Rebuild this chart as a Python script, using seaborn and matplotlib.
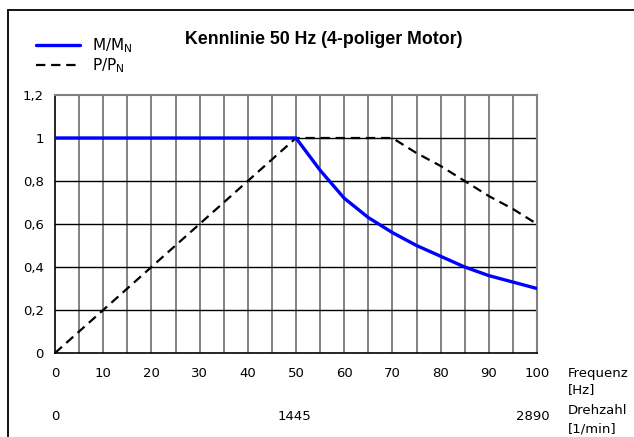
import matplotlib
matplotlib.use("Agg")
import matplotlib.pyplot as plt
from matplotlib.lines import Line2D
import seaborn as sns
import pandas as pd

# Frequency axis (Hz) and characteristic values
freq = [0, 5, 10, 15, 20, 25, 30, 35, 40, 45, 50, 55, 60, 65, 70, 75, 80, 85, 90, 95, 100]
torque = [1, 1, 1, 1, 1, 1, 1, 1, 1, 1, 1, 0.85, 0.72, 0.63, 0.56, 0.50, 0.45, 0.40, 0.36, 0.33, 0.30]
power = [0, 0.1, 0.2, 0.3, 0.4, 0.5, 0.6, 0.7, 0.8, 0.9, 1, 1, 1, 1, 1, 0.93, 0.87, 0.8, 0.73, 0.67, 0.6]

x_ticks = [0, 10, 20, 30, 40, 50, 60, 70, 80, 90, 100]
y_ticks = [0, 0.2, 0.4, 0.6, 0.8, 1.0, 1.2]
y_labels = ["0", "0,2", "0,4", "0,6", "0,8", "1", "1,2"]
rpm_pos = [0, 50, 100]
rpm_labels = ["0", "1445", "2890"]

df = pd.DataFrame({"f": freq, "M": torque, "P": power})

sns.set_style("white")
plt.rcParams["font.family"] = ["DejaVu Sans"]
plt.rcParams["text.color"] = "black"
plt.rcParams["xtick.color"] = "black"
plt.rcParams["ytick.color"] = "black"
plt.rcParams["xtick.labelcolor"] = "black"
plt.rcParams["ytick.labelcolor"] = "black"

W, H = 634, 437
fig = plt.figure(figsize=(W / 100, H / 100), dpi=100)
ax = fig.add_axes([55 / W, 1 - 353 / H, (537 - 55) / W, (353 - 95) / H])

dash = (0, (4.2, 2.6))

# grid
for xv in range(5, 100, 5):
    ax.axvline(xv, color="#606060", lw=1.1, zorder=1)
for yv in y_ticks[1:-1]:
    ax.axhline(yv, color="black", lw=1.0, zorder=1)

sns.lineplot(data=df, x="f", y="P", ax=ax, color="black", lw=1.6,
             linestyle=dash, zorder=3)
sns.lineplot(data=df, x="f", y="M", ax=ax, color="#0000ff", lw=2.4, zorder=4)

ax.set_xlim(0, 100)
ax.set_ylim(0, 1.2)
ax.set_xticks(x_ticks)
ax.set_xticklabels([str(v) for v in x_ticks], fontsize=9.5)
ax.set_xticks(range(5, 100, 10), minor=True)
ax.set_yticks(y_ticks)
ax.set_yticklabels(y_labels, fontsize=9.5)
ax.tick_params(axis="x", which="both", direction="inout", length=8, width=1, pad=6, colors="black")
ax.tick_params(axis="y", which="major", direction="out", length=4, width=1, pad=4, colors="black")
ax.set_xlabel("")
ax.set_ylabel("")

for side in ["left", "bottom"]:
    ax.spines[side].set_color("black")
    ax.spines[side].set_linewidth(1.2)
for side in ["top", "right"]:
    ax.spines[side].set_color("#808080")
    ax.spines[side].set_linewidth(1.5)

# speed row below the frequency ticks
for pos, lab in zip(rpm_pos, rpm_labels):
    fig.text((55 + pos / 100 * (537 - 55) - 4 * (pos / 100)) / W, 1 - 416 / H, lab,
             ha="center", va="center", fontsize=9.5)

# axis captions on the right
for txt, yy in [("Frequenz", 373), ("[Hz]", 390), ("Drehzahl", 410), ("[1/min]", 429)]:
    fig.text(568 / W, 1 - yy / H, txt, ha="left", va="center", fontsize=9.5)

# legend
handles = [Line2D([0], [0], color="#0000ff", lw=2.4),
           Line2D([0], [0], color="black", lw=1.6, linestyle=dash)]
labels = [r"M/M$_\mathregular{N}$", r"P/P$_\mathregular{N}$"]
fig.legend(handles, labels, loc="upper left", bbox_to_anchor=(25 / W, 1 - 26 / H),
           frameon=False, fontsize=11, handlelength=2.9, handletextpad=0.8,
           labelspacing=0.05, borderpad=0.2, labelcolor="black")

fig.text(185 / W, 1 - 40 / H, "Kennlinie 50 Hz (4-poliger Motor)",
         ha="left", va="center", fontsize=12.8, fontweight="bold",
         family="Liberation Sans", color="black")

# outer frame (top and left edges)
fig.add_artist(Line2D([8 / W, 1], [1 - 10 / H, 1 - 10 / H], color="black", lw=1.3))
fig.add_artist(Line2D([8 / W, 8 / W], [0, 1 - 10 / H], color="black", lw=1.3))

fig.savefig("out.png", dpi=100)
